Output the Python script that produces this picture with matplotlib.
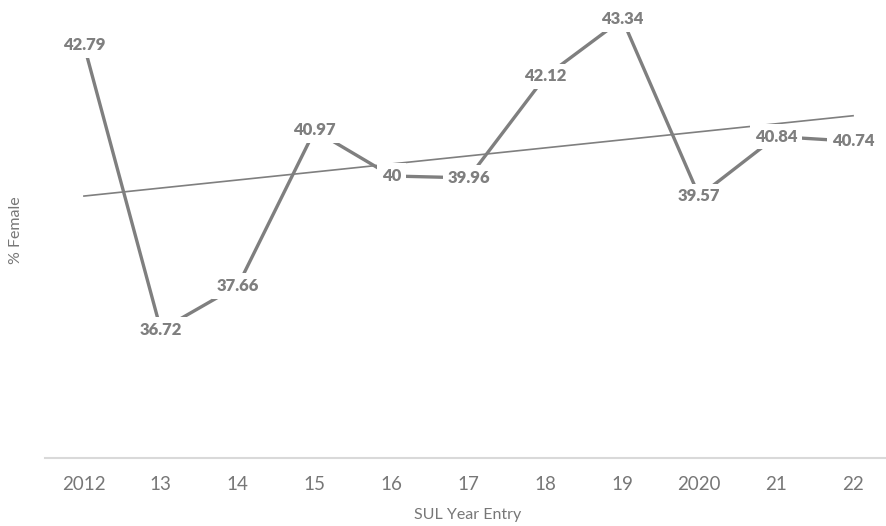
import numpy as np
import matplotlib
matplotlib.use("Agg")
import matplotlib.pyplot as plt

# ── data ──────────────────────────────────────────────────────────────────────
years = ["2012", "13", "14", "15", "16", "17", "18", "19", "2020", "21", "22"]
pct_female = [42.79, 36.72, 37.66, 40.97, 40, 39.96, 42.12, 43.34, 39.57, 40.84, 40.74]
value_labels = ["42.79", "36.72", "37.66", "40.97", "40", "39.96", "42.12",
                "43.34", "39.57", "40.84", "40.74"]

plt.rcParams['font.family'] = ['Lato', 'DejaVu Sans']

line_col = '#7f7f7f'
text_col = '#777777'

W, H = 887, 526
fig = plt.figure(figsize=(W / 100, H / 100), dpi=100)
# plot area: x from -0.5..10.5, y from 34..44 (top slightly cropped)
ax = fig.add_axes([45.5 / W, 1 - 457.7 / H, 846 / W, 469.5 / H])

x = np.arange(len(years))
ax.plot(x, pct_female, color=line_col, lw=2.4, solid_capstyle='butt', zorder=2)

# linear trendline
slope, icpt = np.polyfit(x, pct_female, 1)
ax.plot(x, slope * x + icpt, color=line_col, lw=1.2, zorder=1)

# data labels centred on the points, white box hides the line underneath
for xi, yi, lab in zip(x, pct_female, value_labels):
    ax.text(xi, yi, lab, ha='center', va='center', fontsize=12,
            fontweight='heavy', color=line_col, zorder=3,
            bbox=dict(boxstyle='square,pad=0.28', fc='white', ec='none'))

ax.set_xlim(-0.5, 10.5)
ax.set_ylim(34, 44)
ax.set_xticks(x)
ax.set_xticklabels(years)
ax.set_yticks([])
ax.tick_params(axis='x', length=0, pad=13, labelsize=13.5, labelcolor=text_col)
for s in ['top', 'left', 'right']:
    ax.spines[s].set_visible(False)
ax.spines['bottom'].set_color('#d9d9d9')
ax.spines['bottom'].set_linewidth(1.5)

fig.text(468 / W, 1 - 515 / H, 'SUL Year Entry', ha='center', va='center',
         fontsize=11.5, color=text_col)
fig.text(16 / W, 1 - 230 / H, '% Female', ha='center', va='center',
         rotation=90, fontsize=11.5, color=text_col)

fig.savefig('out.png', dpi=100)
